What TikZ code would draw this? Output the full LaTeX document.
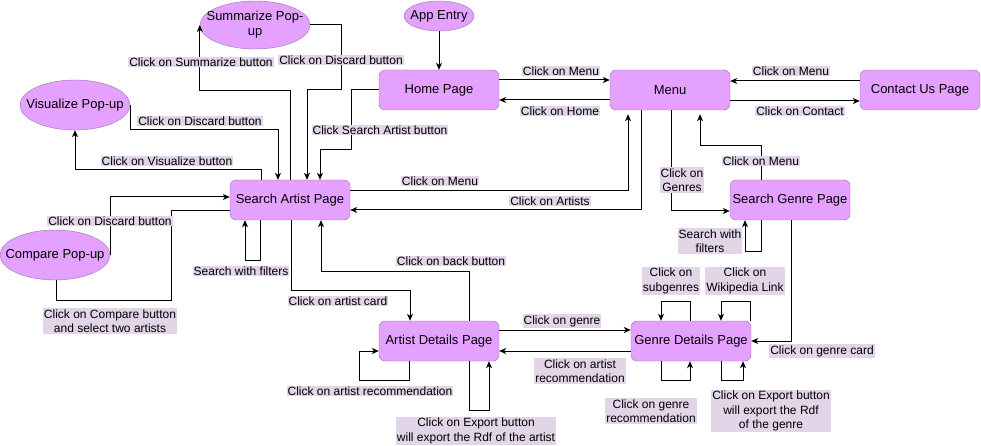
\documentclass[tikz,border=0pt]{standalone}
\usepackage{fontspec}
\setmainfont{Liberation Sans}
\usetikzlibrary{shapes.geometric,arrows.meta}
\definecolor{pagefill}{RGB}{229,161,255}
\definecolor{pagedraw}{RGB}{150,115,166}
\definecolor{lblfill}{RGB}{225,213,231}
\newcommand{\zw}[1]{\makebox[0pt]{\begin{tabular}{@{}c@{}}#1\end{tabular}}}
\begin{document}
\begin{tikzpicture}[x=1pt,y=-1pt,
  page/.style={draw=pagedraw,fill=pagefill,rounded corners=6pt,minimum width=120pt,minimum height=40pt,inner sep=1pt,font=\fontsize{13}{15.6}\selectfont},
  popup/.style={draw=pagedraw,fill=pagefill,ellipse,minimum width=110pt,minimum height=50pt,inner sep=0pt,font=\fontsize{13}{15.6}\selectfont},
  lbl/.style={fill=lblfill,inner sep=1pt,align=center,font=\fontsize{12}{14.4}\selectfont},
  arr/.style={draw=black,line width=1pt,-{Stealth[length=7pt,width=6pt,inset=2pt]}},
  plain/.style={draw=black,line width=1pt}]
\useasboundingbox (0,0) rectangle (981,446);
% nodes
\node[popup,minimum height=48pt] (sum) at (255,25) {\zw{Summarize Pop-\\up}};
\node[popup,minimum width=70pt,minimum height=30pt] (app) at (439,16) {\zw{App Entry}};
\node[page] (home) at (439,90) {Home Page};
\node[page] (menu) at (670,90) {Menu};
\node[page] (contact) at (920,90) {Contact Us Page};
\node[popup] (vis) at (75,105) {\zw{Visualize Pop-up}};
\node[page] (sa) at (290,200) {Search Artist Page};
\node[page] (sg) at (790,200) {Search Genre Page};
\node[popup] (cmp) at (55,255) {\zw{Compare Pop-up}};
\node[page] (ad) at (439,341) {Artist Details Page};
\node[page] (gd) at (691,341) {Genre Details Page};
% edges
\draw[arr] (app) -- (home);
\draw[arr] (home.east |- 0,80) -- (menu.west |- 0,80);
\draw[arr] (menu.west |- 0,100) -- (home.east |- 0,100);
\draw[arr] (contact.west |- 0,81) -- (menu.east |- 0,81);
\draw[arr] (menu.east |- 0,101) -- (contact.west |- 0,101);
\draw[arr] (home.west) -- (351,90) -- (351,150) -- (320,150) -- (sa.north -| 320,0);
\draw[arr,shorten >=4pt] (sa.east |- 0,191) -- (628,191) -- (menu.south -| 628,0);
\draw[arr] (menu.south -| 641,0) -- (641,210) -- (sa.east |- 0,210);
\draw[arr] (menu.south -| 671,0) -- (671,211) -- (sg.west |- 0,211);
\draw[arr,shorten >=4pt] (sg.north -| 761,0) -- (761,146) -- (700,146) -- (menu.south -| 700,0);
\draw[arr] (sg.south -| 761,0) -- (761,251) -- (745,251) -- (sg.south -| 745,0);
\draw[arr] (sg.south -| 791,0) -- (791,341) -- (gd.east);
\draw[arr] (gd.north -| 690,0) -- (690,301) -- (661,301) -- (gd.north -| 661,0);
\draw[arr] (gd.north -| 750,0) -- (750,301) -- (721,301) -- (gd.north -| 721,0);
\draw[arr] (gd.south -| 661,0) -- (661,380) -- (690,380) -- (gd.south -| 690,0);
\draw[arr] (gd.south -| 721,0) -- (721,380) -- (743,380) -- (gd.south -| 743,0);
\draw[arr] (ad.east |- 0,330) -- (gd.west |- 0,330);
\draw[arr] (gd.west |- 0,351) -- (ad.east |- 0,351);
\draw[arr] (sa.south -| 291,0) -- (291,290) -- (410,290) -- (ad.north -| 410,0);
\draw[arr] (ad.north -| 469,0) -- (469,271) -- (321,271) -- (sa.south -| 321,0);
\draw[arr] (ad.south -| 409,0) -- (409,380) -- (359,380) -- (359,351) -- (ad.west |- 0,351);
\draw[arr] (ad.south -| 469,0) -- (469,410) -- (489,410) -- (ad.south -| 489,0);
\draw[arr] (sa.north) -- (sa.north |- 0,91) -- (sum.west |- 0,91) -- (sum.west);
\draw[arr] (sum.east) -- (341,25) -- (341,90) -- (307,90) -- (sa.north -| 307,0);
\draw[arr] (vis.east) -- (vis.east |- 0,130) -- (278,130) -- (sa.north -| 278,0);
\draw[arr] (sa.north -| 261,0) -- (261,170) -- (vis.south |- 0,170) -- (vis.south);
\draw[arr] (cmp.east) -- (cmp.east |- 0,197) -- (sa.west |- 0,197);
\draw[plain] (sa.west |- 0,211) -- (171,211) -- (171,300) -- (56,300) -- (cmp.south -| 56,0);
\draw[arr] (sa.south -| 260,0) -- (260,260) -- (245,260) -- (sa.south -| 245,0);
% labels
\node[lbl] (l2) at (561,71) {Click on Menu};
\node[lbl] (l3) at (560,111) {Click on Home};
\node[lbl] (l4) at (791,71) {Click on Menu};
\node[lbl] (l5) at (800,111) {Click on Contact};
\node[lbl] (l6) at (380,130) {Click Search Artist button};
\node[lbl] (l7) at (440,181) {Click on Menu};
\node[lbl] (l8) at (550,201) {Click on Artists};
\node[lbl] (l9) at (682,180) {Click on\\Genres};
\node[lbl] (l10) at (761,161) {Click on Menu};
\node[lbl] (l11) at (710,241) {Search with\\filters};
\node[lbl] (l12) at (822,351) {Click on genre card};
\node[lbl] (l13a) at (671,281) {Click on\\subgenres};
\node[lbl] (l13b) at (745,281) {Click on\\Wikipedia Link};
\node[lbl] (l14a) at (651,411) {Click on genre\\recommendation};
\node[lbl] (l14b) at (771,411) {Click on Export button\\will export the Rdf\\of the genre};
\node[lbl] (l15) at (562,321) {Click on genre};
\node[lbl] (l16) at (580,371) {Click on artist\\recommendation};
\node[lbl] (l17) at (338,301) {Click on artist card};
\node[lbl] (l18) at (451,261) {Click on back button};
\node[lbl] (l19) at (370,391) {Click on artist recommendation};
\node[lbl] (l20) at (476,431) {Click on Export button\\will export the Rdf of the artist};
\node[lbl] (l21) at (201,62) {Click on Summarize button};
\node[lbl] (l22) at (341,60) {Click on Discard button};
\node[lbl] (l23) at (200,121) {Click on Discard button};
\node[lbl] (l24) at (167,161) {Click on Visualize button};
\node[lbl] (l25) at (110,221) {Click on Discard button};
\node[lbl] (l26) at (110,321) {Click on Compare button\\and select two artists};
\node[lbl] (l27) at (241,271) {Search with filters};
\end{tikzpicture}
\end{document}
